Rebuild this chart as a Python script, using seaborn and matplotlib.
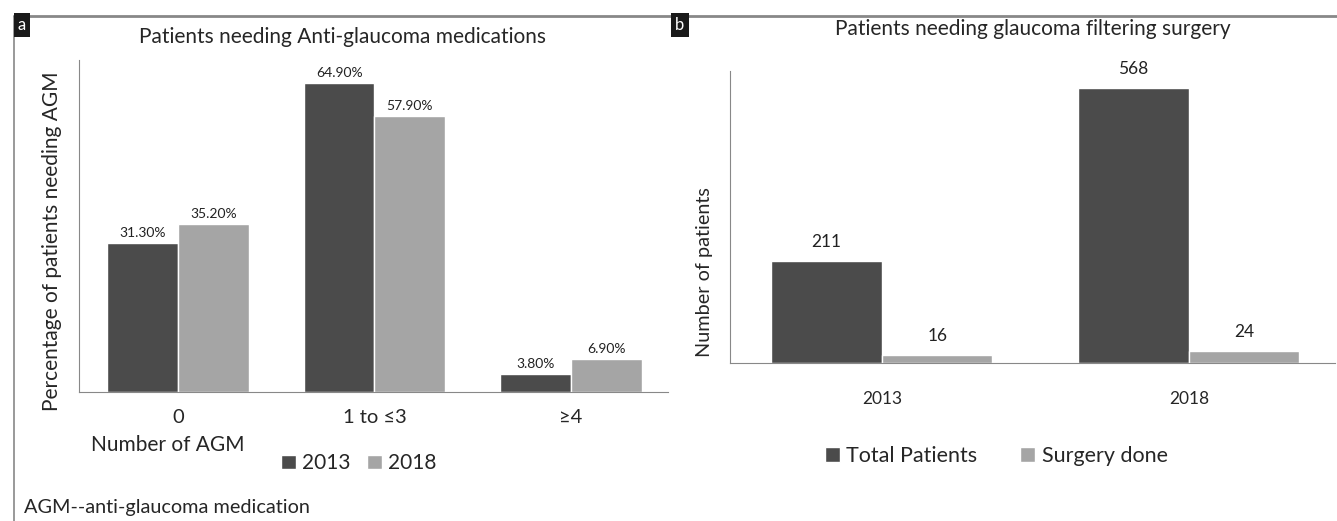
"""
Glaucoma treatment figure: anti-glaucoma medications (a) and filtering surgery (b).
"""

import pandas as pd
import matplotlib.pyplot as plt
import seaborn as sns
from matplotlib.lines import Line2D

# Panel a data
agm_groups = ['0', '1 to ≤3', '≥4']
agm_2013 = [31.3, 64.9, 3.8]
agm_2018 = [35.2, 57.9, 6.9]

# Panel b data
years = ['2013', '2018']
total_patients = [211, 568]
surgery_done = [16, 24]

DARK = '#4b4b4b'
LIGHT = '#a5a5a5'

sns.set_style('white')
plt.rcParams['font.family'] = ['Lato', 'DejaVu Sans']

df_a = pd.DataFrame({
    'group': agm_groups * 2,
    'year': ['2013'] * 3 + ['2018'] * 3,
    'pct': agm_2013 + agm_2018,
})
df_b = pd.DataFrame({
    'year': years * 2,
    'kind': ['Total Patients'] * 2 + ['Surgery done'] * 2,
    'n': total_patients + surgery_done,
})

fig = plt.figure(figsize=(13.37, 5.21), dpi=100)
ax_a = fig.add_axes([0.0591, 0.2476, 0.4405, 0.6372])
ax_b = fig.add_axes([0.546, 0.3033, 0.4525, 0.5604])

# Plot a
sns.barplot(data=df_a, x='group', y='pct', hue='year', order=agm_groups,
            palette=[DARK, LIGHT], width=0.72, saturation=1, ax=ax_a)
for cont in ax_a.containers:
    ax_a.bar_label(cont, fmt='%.2f%%', padding=3, fontsize=10, color='#222222')
ax_a.set_xlim(-0.504, 2.494)
ax_a.set_ylim(0, 69.7)
ax_a.set_yticks([])
ax_a.set_xlabel('')
ax_a.set_ylabel('Percentage of patients needing AGM', fontsize=15)
ax_a.yaxis.set_label_coords(-0.029, 0.455)
ax_a.tick_params(axis='x', labelsize=14.5, length=0, pad=12)
ax_a.set_title('Patients needing Anti-glaucoma medications', fontsize=15, pad=12,
               x=0.447)
ax_a.legend(loc='center', bbox_to_anchor=(0.475, -0.215), ncol=2, frameon=False,
            fontsize=15, handlelength=0.7, handleheight=0.7, handletextpad=0.3,
            columnspacing=0.8)
ax_a.text(0.02, -0.16, 'Number of AGM', transform=ax_a.transAxes, fontsize=15,
          va='center', ha='left')

# Plot b
sns.barplot(data=df_b, x='year', y='n', hue='kind', order=years,
            palette=[DARK, LIGHT], width=0.72, saturation=1, ax=ax_b)
for cont in ax_b.containers:
    ax_b.bar_label(cont, fmt='%d', padding=8, fontsize=12.5, color='#222222')
ax_b.set_xlim(-0.495, 1.476)
ax_b.set_ylim(0, 603)
ax_b.set_yticks([])
ax_b.set_xlabel('')
ax_b.set_ylabel('Number of patients', fontsize=14.3)
ax_b.yaxis.set_label_coords(-0.028, 0.31)
ax_b.tick_params(axis='x', labelsize=12.5, length=0, pad=20)
ax_b.set_title('Patients needing glaucoma filtering surgery', fontsize=15, pad=26)
ax_b.legend(loc='center', bbox_to_anchor=(0.44, -0.32), ncol=2, frameon=False,
            fontsize=15.5, handlelength=0.7, handleheight=0.7, handletextpad=0.3,
            columnspacing=2.0)

for ax in (ax_a, ax_b):
    sns.despine(ax=ax, top=True, right=True)
    ax.spines['left'].set_color('#888888')
    ax.spines['bottom'].set_color('#888888')

# Outer frame and panel tags
fig.add_artist(Line2D([0.0105, 1.0], [0.969, 0.969], color='#888888', lw=2))
fig.add_artist(Line2D([0.0105, 0.0105], [0.0, 0.969], color='#888888', lw=1.2))
fig.text(0.0165, 0.952, 'a', color='white', fontsize=12, ha='center', va='center',
         bbox=dict(boxstyle='square,pad=0.25', fc='#1a1a1a', ec='none'))
fig.text(0.5085, 0.952, 'b', color='white', fontsize=12, ha='center', va='center',
         bbox=dict(boxstyle='square,pad=0.25', fc='#1a1a1a', ec='none'))
fig.text(0.018, 0.025, 'AGM--anti-glaucoma medication', fontsize=14.3, ha='left',
         va='center')

fig.savefig('out.png', dpi=100)
